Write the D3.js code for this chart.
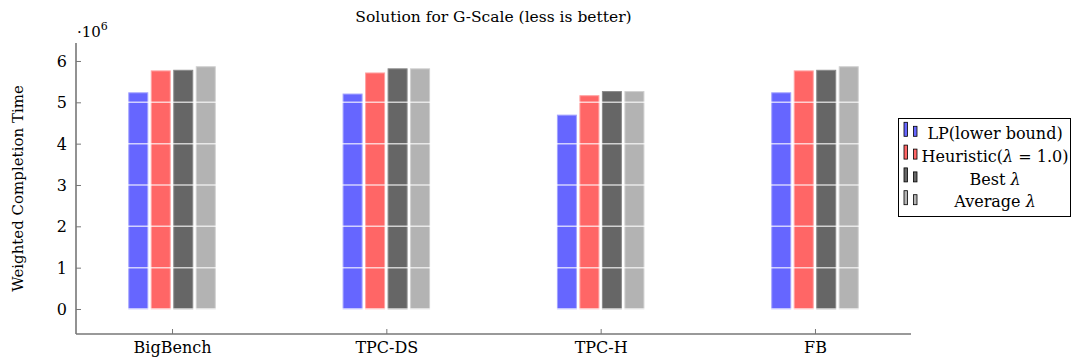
<!DOCTYPE html>
<html><head><meta charset="utf-8">
<script src="https://cdn.jsdelivr.net/npm/d3@7"></script>
<style>
body{margin:0;background:#fff;}
svg text{font-family:"DejaVu Serif",serif !important;fill:#000;}
</style></head>
<body><svg id="c" width="1073" height="360"></svg>
<script>
const categories = ["BigBench","TPC-DS","TPC-H","FB"];
const seriesNames = ["LP(lower bound)","Heuristic(λ = 1.0)","Best λ","Average λ"];
const lpValues = [5.23,5.20,4.69,5.23];
const heuristicValues = [5.76,5.71,5.16,5.76];
const bestValues = [5.775,5.81,5.26,5.775];
const averageValues = [5.86,5.81,5.26,5.86];
const yTicks = [0,1,2,3,4,5,6];
const colors = ["#6666ff","#ff6666","#666666","#b3b3b3"];
const borders = ["#a3a3ff","#ffa3a3","#8a8a8a","#cfcfcf"];

const allSeries = [lpValues,heuristicValues,bestValues,averageValues];
const svg = d3.select("#c");
const L=76,R=911,T=43,B=334;
const x = d3.scalePoint().domain(categories).range([L,R]).padding(0.448);
const y = d3.scaleLinear().domain([-0.605,6.435]).range([B,T]);
const inner = d3.scaleBand().domain(seriesNames).range([-45,45]);
const bw = 19;

categories.forEach((c,ci)=>{
  seriesNames.forEach((s,si)=>{
    const v = allSeries[si][ci];
    const cx = x(c)+inner(s)+inner.bandwidth()/2;
    svg.append("rect").attr("x",cx-bw/2).attr("y",y(v)).attr("width",bw).attr("height",y(0)-y(v))
      .attr("fill",colors[si]).attr("stroke",borders[si]).attr("stroke-width",1);
  });
});
svg.append("g").selectAll("line").data(yTicks).join("line")
  .attr("x1",L).attr("x2",R).attr("y1",d=>y(d)).attr("y2",d=>y(d))
  .attr("stroke","#fff").attr("stroke-opacity",0.7).attr("stroke-width",1.5);

const ya = svg.append("g").attr("transform",`translate(${L},0)`)
  .call(d3.axisLeft(y).tickValues(yTicks).tickSize(-5).tickPadding(9).tickFormat(d3.format("d")));
const xa = svg.append("g").attr("transform",`translate(0,${B})`)
  .call(d3.axisBottom(x).tickSize(-5).tickPadding(6));
[ya,xa].forEach(g=>{
  g.attr("font-family",null).attr("font-size",null);
  g.select(".domain").attr("stroke","#777").attr("stroke-width",1.6);
  g.selectAll(".tick line").attr("stroke","#777").attr("stroke-width",1);
  g.selectAll(".tick text").style("font-size","16px").attr("fill","#000");
});
ya.select(".domain").attr("d",`M0,${T}V${B}`);
xa.select(".domain").attr("d",`M${L},0H${R}`);
xa.selectAll(".tick text").attr("dy","0.8em");
ya.selectAll(".tick text").attr("dy","0.35em");

const ex = svg.append("text").attr("x",77).attr("y",37).style("font-size","15px");
ex.append("tspan").text("·10");
ex.append("tspan").attr("dy","-7").style("font-size","11px").text("6");

svg.append("text").attr("x",(L+R)/2).attr("y",22).attr("text-anchor","middle").style("font-size","15.5px")
  .text("Solution for G-Scale (less is better)");
svg.append("text").attr("transform",`translate(23,${(T+B)/2}) rotate(-90)`).attr("text-anchor","middle")
  .style("font-size","15px").text("Weighted Completion Time");

const lg = svg.append("g");
lg.append("rect").attr("x",898.5).attr("y",118.5).attr("width",172).attr("height",98)
  .attr("fill","#fff").attr("stroke","#000").attr("stroke-width",1);
seriesNames.forEach((s,i)=>{
  const cy = 133.3 + i*22.8;
  lg.append("rect").attr("x",904).attr("y",cy-11).attr("width",3.5).attr("height",14)
    .attr("fill",colors[i]).attr("stroke","#000").attr("stroke-width",0.8);
  lg.append("rect").attr("x",913.5).attr("y",cy-7).attr("width",3.5).attr("height",10)
    .attr("fill",colors[i]).attr("stroke","#000").attr("stroke-width",0.8);
  const t = lg.append("text").attr("x",995).attr("y",cy).attr("dy","0.35em").attr("text-anchor","middle").style("font-size","16px");
  if(s.includes("λ")){
    const parts = s.split("λ");
    t.append("tspan").text(parts[0]);
    t.append("tspan").style("font-style","italic").text("λ");
    t.append("tspan").text(parts[1]);
  } else t.text(s);
});
</script></body></html>
